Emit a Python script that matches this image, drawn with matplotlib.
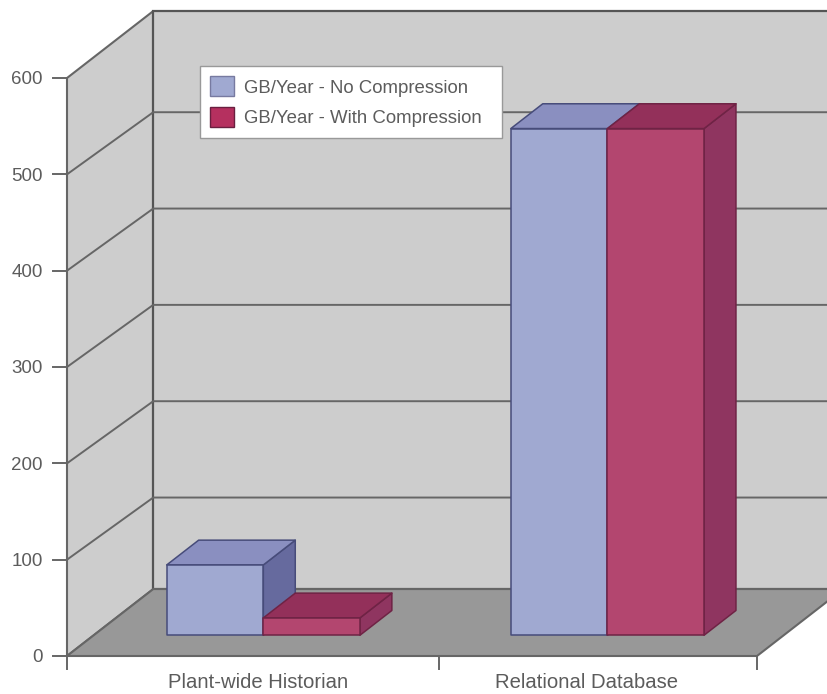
import matplotlib
matplotlib.use('Agg')
import matplotlib.pyplot as plt
from matplotlib.patches import Polygon, Patch

plt.rc('font', family='Liberation Sans')

# data
categories = ['Plant-wide Historian', 'Relational Database']
no_compression = [73, 526]
with_compression = [18, 526]
series_names = ['GB/Year - No Compression', 'GB/Year - With Compression']
y_ticks = [0, 100, 200, 300, 400, 500, 600]
x_ticks = [0, 1.078, 2]
label_pos = [0.554, 1.506]

# oblique projection, in axis units
wall_dx = 0.25
wall_dy = 69.5
grid_dy = 64.5
bar_w = 0.28
bar_start = [0.2116, 1.209]
depth_front = 0.31
depth_size = 0.37

line_col = '#666666'
text_col = '#5c5c5c'
wall_col = '#cdcdcd'
floor_col = '#989898'
blue = ('#a0a9d1', '#8a8fc0', '#666a9e', '#474c7a')
red = ('#b3466f', '#93305a', '#8f3560', '#6f2345')


def shift(x, y, d):
    return (x + d * wall_dx, y + d * wall_dy)


def box(ax, x0, val, cols):
    x1 = x0 + bar_w
    d0 = depth_front
    d1 = depth_front + depth_size
    front = [shift(x0, 0, d0), shift(x1, 0, d0), shift(x1, val, d0), shift(x0, val, d0)]
    top = [shift(x0, val, d0), shift(x1, val, d0), shift(x1, val, d1), shift(x0, val, d1)]
    side = [shift(x1, 0, d0), shift(x1, 0, d1), shift(x1, val, d1), shift(x1, val, d0)]
    for pts, c in zip([side, top, front], [cols[2], cols[1], cols[0]]):
        ax.add_patch(Polygon(pts, closed=True, fc=c, ec=cols[3], lw=1.1, joinstyle='round', zorder=3))


fig = plt.figure(figsize=(8.27, 6.94), dpi=100)
ax = fig.add_axes([0, 0, 1, 1])
ax.set_xlim(-67 / 345, 760 / 345)
ax.set_ylim(-38 / 0.9633, 656 / 0.9633)
ax.axis('off')

top = y_ticks[-1]
# walls and floor
ax.add_patch(Polygon([shift(0, 0, 0), shift(0, 0, 1), shift(0, top, 1), shift(0, top, 0)],
                     closed=True, fc=wall_col, ec=line_col, lw=1.5, zorder=1))
ax.add_patch(Polygon([shift(0, 0, 1), shift(2, 0, 1), shift(2, top, 1), shift(0, top, 1)],
                     closed=True, fc=wall_col, ec='#555555', lw=1.6, zorder=1))
ax.add_patch(Polygon([shift(0, 0, 0), shift(2, 0, 0), shift(2, 0, 1), shift(0, 0, 1)],
                     closed=True, fc=floor_col, ec=line_col, lw=1.5, zorder=2))

# gridlines and ticks
for v in y_ticks:
    if 0 < v < top:
        xs = [0, wall_dx, 2 + wall_dx]
        ys = [v, v + grid_dy, v + grid_dy]
        ax.plot(xs, ys, color=line_col, lw=1.4, zorder=1.5)
    ax.plot([-0.04, 0], [v, v], color=line_col, lw=1.4, zorder=2)
    ax.text(-0.07, v - 2, str(v), ha='right', va='center', fontsize=13.5, color=text_col)
for x in x_ticks:
    ax.plot([x, x], [0, -13], color=line_col, lw=1.4, zorder=2)
for x, name in zip(label_pos, categories):
    ax.text(x, -28, name, ha='center', va='center', fontsize=14.6, color=text_col)

# bars
for i in range(len(categories)):
    box(ax, bar_start[i], no_compression[i], blue)
    box(ax, bar_start[i] + bar_w, with_compression[i], red)

handles = [Patch(fc=blue[0], ec='#777aa0'), Patch(fc='#b5305f', ec='#6a1f40')]
leg = ax.legend(handles, series_names, loc='upper left', mode='expand',
                bbox_to_anchor=(200 / 827, 1 - 138 / 694, 302 / 827, 72 / 694),
                bbox_transform=fig.transFigure,
                borderaxespad=0, fontsize=13.4, fancybox=False, framealpha=1, facecolor='white',
                edgecolor='#999999', labelcolor=text_col, handlelength=1.25, handleheight=1.25,
                handletextpad=0.58, labelspacing=0.58, borderpad=0.56)
leg.set_zorder(4)

plt.savefig('out.png', dpi=100)
